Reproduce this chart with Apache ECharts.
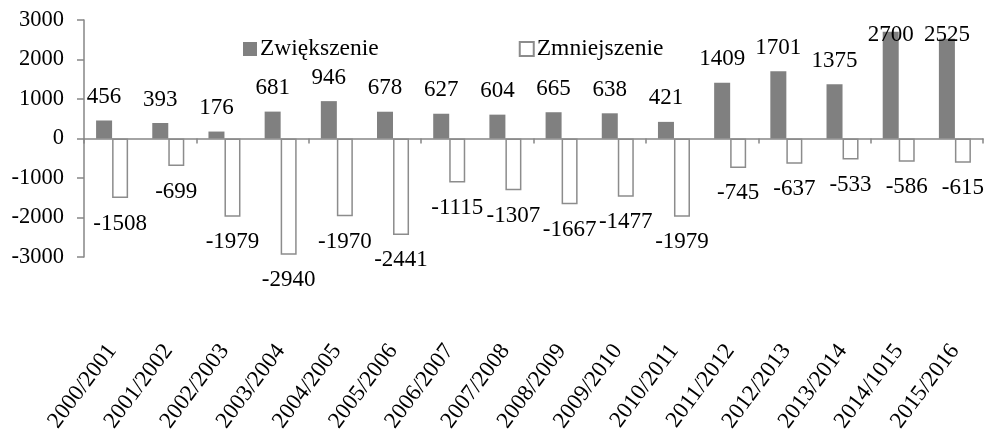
<!DOCTYPE html>
<html>
<head>
<meta charset="utf-8">
<script src="https://cdn.jsdelivr.net/npm/echarts@6/dist/echarts.min.js"></script>
<style>html,body{margin:0;padding:0;background:#fff}#c{width:988px;height:432px}</style>
</head>
<body>
<div id="c"></div>
<script>
const categories = ['2000/2001','2001/2002','2002/2003','2003/2004','2004/2005','2005/2006','2006/2007','2007/2008','2008/2009','2009/2010','2010/2011','2011/2012','2012/2013','2013/2014','2014/1015','2015/2016'];
const increase = [456, 393, 176, 681, 946, 678, 627, 604, 665, 638, 421, 1409, 1701, 1375, 2700, 2525];
const decrease = [-1508, -699, -1979, -2940, -1970, -2441, -1115, -1307, -1667, -1477, -1979, -745, -637, -533, -586, -615];
const seriesNames = ['Zwiększenie', 'Zmniejszenie'];
const yTicks = [-3000, 3000, 1000];

const FONT = 'Liberation Serif';
const LABEL_TOP_MIN = 23;
const chart = echarts.init(document.getElementById('c'));
chart.setOption({
  animation: false,
  textStyle: { fontFamily: FONT },
  legend: {
    left: 238, top: 32, itemWidth: 14, itemHeight: 14, itemGap: 140,
    icon: 'rect',
    textStyle: { fontFamily: FONT, fontSize: 23.5, color: '#000', padding: [0, 0, 0, -2] },
    data: seriesNames
  },
  grid: { left: 84, right: 5, top: 20, bottom: 175, containLabel: false, outerBoundsMode: 'none' },
  xAxis: [
    {
      type: 'category', data: categories,
      axisLine: { onZero: true, lineStyle: { color: '#868686', width: 1.5 } },
      axisTick: { show: true, length: 5, lineStyle: { color: '#868686', width: 1.5 } },
      axisLabel: { show: false }
    },
    {
      type: 'category', data: categories, position: 'bottom',
      axisLine: { show: false, onZero: false }, axisTick: { show: false },
      axisLabel: { show: true, rotate: 53, margin: 90, fontFamily: FONT, fontSize: 23, color: '#000', interval: 0 }
    }
  ],
  yAxis: {
    type: 'value', min: yTicks[0], max: yTicks[1], interval: yTicks[2],
    axisLine: { show: true, lineStyle: { color: '#868686', width: 1.5 } },
    axisTick: { show: true, length: 7, lineStyle: { color: '#868686', width: 1.5 } },
    splitLine: { show: false },
    axisLabel: { margin: 20, fontFamily: FONT, fontSize: 22.5, color: '#000', formatter: v => String(v) }
  },
  labelLayout: p => (p.seriesIndex === 0 && p.labelRect.y < LABEL_TOP_MIN ? { dy: LABEL_TOP_MIN - p.labelRect.y } : {}),
  series: [
    {
      name: seriesNames[0], type: 'bar', data: increase, xAxisIndex: 0,
      barWidth: '28.5%', barGap: '0%', barCategoryGap: '43%',
      itemStyle: { color: '#808080' },
      label: { show: true, position: 'top', distance: 12, fontFamily: FONT, fontSize: 23, color: '#000' }
    },
    {
      name: seriesNames[1], type: 'bar', data: decrease, xAxisIndex: 0,
      barWidth: '28.5%', barGap: '0%',
      itemStyle: { color: '#ffffff', borderColor: '#8c8c8c', borderWidth: 1.5 },
      label: { show: true, position: 'bottom', distance: 14, fontFamily: FONT, fontSize: 23, color: '#000' }
    }
  ]
});
</script>
</body>
</html>
